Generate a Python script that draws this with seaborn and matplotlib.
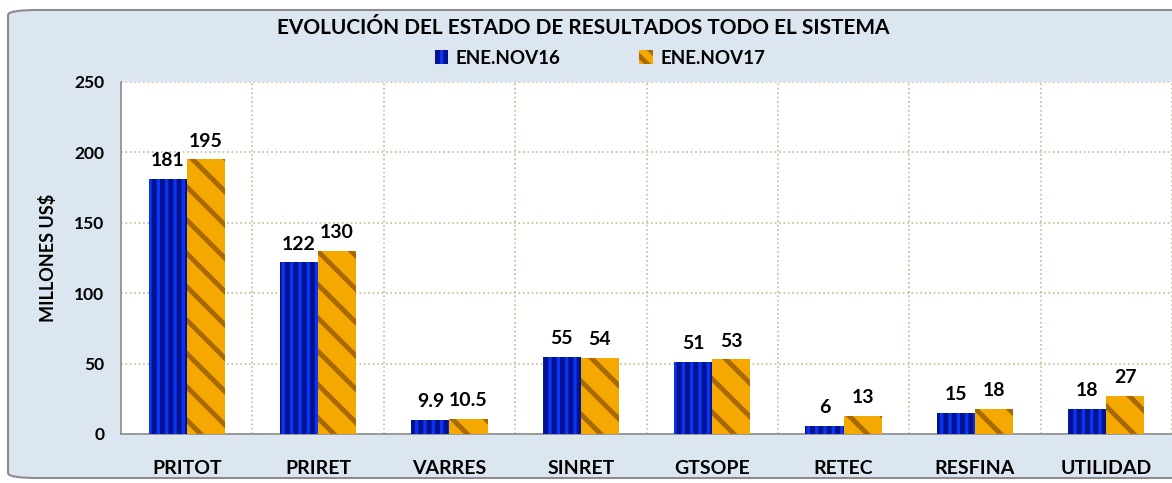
import pandas as pd
import matplotlib.pyplot as plt
import seaborn as sns
from matplotlib.patches import FancyBboxPatch, Patch

# Datos
categorias = ["PRITOT", "PRIRET", "VARRES", "SINRET", "GTSOPE", "RETEC", "RESFINA", "UTILIDAD"]
nov16 = [181, 122, 9.9, 55, 51, 6, 15, 18]
nov17 = [195, 130, 10.5, 54, 53, 13, 18, 27]
etiq16 = ["181", "122", "9.9", "55", "51", "6", "15", "18"]
etiq17 = ["195", "130", "10.5", "54", "53", "13", "18", "27"]
series = ["ENE.NOV16", "ENE.NOV17"]

df = pd.DataFrame({
    "cat": categorias * 2,
    "valor": nov16 + nov17,
    "serie": [series[0]] * len(categorias) + [series[1]] * len(categorias),
})

sns.set_style("white")
plt.rcParams["font.family"] = ["Lato", "DejaVu Sans"]
plt.rcParams["text.color"] = "black"
plt.rcParams["xtick.color"] = "black"
plt.rcParams["ytick.color"] = "black"
plt.rcParams["axes.labelcolor"] = "black"
plt.rcParams["hatch.linewidth"] = 3.5

fig = plt.figure(figsize=(11.72, 4.83), dpi=100)
fig.patch.set_facecolor("white")

# Fondo redondeado
fondo = FancyBboxPatch((8 / 1172, 5 / 483), 1.02, 1 - 15 / 483,
                       boxstyle="round,pad=0,rounding_size=0.025",
                       transform=fig.transFigure, facecolor="#dce6f1",
                       edgecolor="#8c8c8c", linewidth=1.5, zorder=-5,
                       mutation_aspect=483 / 1172)
fig.add_artist(fondo)

ax = fig.add_axes([121 / 1172, 49 / 483, 1 - 121 / 1172, 352 / 483])
ax.set_facecolor("white")
ax.set_zorder(1)

colores = {series[0]: "#0c34f0", series[1]: "#f5a800"}
sns.barplot(data=df, x="cat", y="valor", hue="serie", palette=colores,
            width=0.58, gap=0, saturation=1, legend=False, ax=ax, zorder=3)

# Rayas
tramas = {0: ("||", "#001290"), 1: ("\\", "#a86a00")}
for i, cont in enumerate(ax.containers):
    hatch, col = tramas[i]
    for barra in cont:
        barra.set_hatch(hatch)
        barra.set_edgecolor(col)
        barra.set_linewidth(0)

# Etiquetas de valores
for i, cont in enumerate(ax.containers):
    etiq = etiq16 if i == 0 else etiq17
    ax.bar_label(cont, labels=etiq, padding=7, fontsize=14, fontweight="bold")

ax.set_ylim(0, 250)
ax.set_xlim(-0.5, 7.5)
ax.set_yticks(range(0, 251, 50))
ax.set_xticks(range(len(categorias)))
ax.set_xticklabels(categorias)
ax.set_xticks([x + 0.5 for x in range(-1, len(categorias))], minor=True)
ax.tick_params(axis="x", which="major", length=0, pad=19)
ax.tick_params(axis="x", which="minor", length=6, color="#8c8c8c", width=1.2)
ax.tick_params(axis="y", length=6, color="#8c8c8c", labelcolor="black", width=1.2, pad=6)
for t in ax.get_xticklabels():
    t.set_fontweight("bold")
    t.set_fontsize(14)
for t in ax.get_yticklabels():
    t.set_fontweight("bold")
    t.set_fontsize(12.5)

ax.grid(axis="y", linestyle=":", color="#c4bc96", linewidth=1.2, zorder=0)
ax.grid(axis="x", which="minor", linestyle=":", color="#c4bc96", linewidth=1.2, zorder=0)
ax.set_axisbelow(True)

for s in ["top", "right"]:
    ax.spines[s].set_visible(False)
for s in ["left", "bottom"]:
    ax.spines[s].set_color("#8c8c8c")
    ax.spines[s].set_linewidth(1.2)

ax.set_xlabel("")
ax.set_ylabel("MILLONES US$", fontsize=13, fontweight="bold", labelpad=12)

fig.text(583 / 1172, 1 - 28 / 483, "EVOLUCIÓN DEL ESTADO DE RESULTADOS TODO EL SISTEMA",
         ha="center", va="center", fontsize=15, fontweight="bold")

manijas = [Patch(facecolor=colores[series[0]], edgecolor=tramas[0][1], hatch="||", linewidth=0),
           Patch(facecolor=colores[series[1]], edgecolor=tramas[1][1], hatch="\\\\", linewidth=0)]
fig.legend(manijas, series, loc="center", bbox_to_anchor=(600 / 1172, 1 - 58 / 483),
           ncol=2, frameon=False, prop={"weight": "bold", "size": 13.5},
           handlelength=0.7, handleheight=0.7, columnspacing=4.2, handletextpad=0.4)

fig.savefig("out.png", dpi=100)
